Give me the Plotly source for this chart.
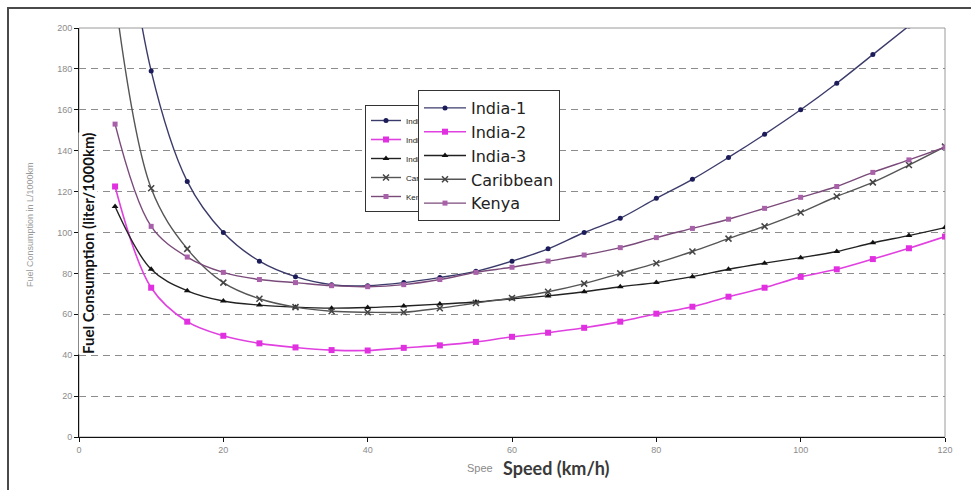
import plotly.graph_objects as go

# Speed (km/h) at which fuel consumption was evaluated
speed = [5, 10, 15, 20, 25, 30, 35, 40, 45, 50, 55, 60,
         65, 70, 75, 80, 85, 90, 95, 100, 105, 110, 115, 120]

# Fuel consumption (liter/1000km) per region
india_1 = [290, 179, 125, 100, 86, 78.4, 74.5, 74, 75.5, 78, 81, 86,
           92, 100, 107, 116.7, 126, 136.7, 148, 160, 173, 187, 201, 215]
india_2 = [122.5, 73, 56.4, 49.5, 45.8, 43.8, 42.5, 42.3, 43.6, 44.8, 46.5, 49,
           51, 53.4, 56.4, 60.3, 63.7, 68.6, 73, 78.3, 82, 87, 92.3, 98]
india_3 = [112.7, 82, 71.5, 66.5, 64.5, 63.5, 63, 63.3, 64, 65, 66, 67.6,
           69, 71, 73.5, 75.5, 78.4, 82, 85, 87.7, 90.7, 95, 98.5, 102.4]
caribbean = [215, 121.6, 92, 75.5, 67.6, 63.5, 61.5, 61, 61, 63, 65.5, 68,
             71, 75, 80, 85, 90.7, 97, 103, 109.8, 117.6, 124.5, 133, 142]
kenya = [153, 103, 88, 80.5, 77, 75.5, 74, 73.5, 74.5, 77, 80.5, 83,
         86, 89, 92.6, 97.5, 102, 106.5, 111.8, 117.2, 122.5, 129.4, 135.5, 141.7]

series_names = ["India-1", "India-2", "India-3", "Caribbean", "Kenya"]
series_values = [india_1, india_2, india_3, caribbean, kenya]

x_ticks = [0, 20, 40, 60, 80, 100, 120]
y_ticks = [0, 20, 40, 60, 80, 100, 120, 140, 160, 180, 200]

styles = [
    dict(line=dict(color="#3b3b6b", width=1.4),
         marker=dict(symbol="circle", size=5, color="#1c1c5a")),
    dict(line=dict(color="#e040e0", width=1.6),
         marker=dict(symbol="square", size=6, color="#e030e0")),
    dict(line=dict(color="#222222", width=1.4),
         marker=dict(symbol="triangle-up", size=6, color="#111111")),
    dict(line=dict(color="#555555", width=1.4),
         marker=dict(symbol="x-thin", size=6, color="#444444",
                     line=dict(color="#444444", width=1.5))),
    dict(line=dict(color="#7a4a7a", width=1.4),
         marker=dict(symbol="square", size=5, color="#a860a8")),
]

fig = go.Figure()

# Smaller legend sitting behind the main one
for name, st in zip(series_names, styles):
    fig.add_trace(go.Scatter(x=[None], y=[None], mode="lines+markers", name=name,
                             legend="legend", legendgroup="b" + name, **st))

# Curves
for name, vals, st in zip(series_names, series_values, styles):
    fig.add_trace(go.Scatter(x=speed, y=vals, mode="lines+markers", name=name,
                             line_shape="spline", legend="legend2",
                             legendgroup=name, **st))

fig.update_layout(
    width=971, height=490,
    margin=dict(l=79, r=26, t=28, b=53),
    paper_bgcolor="white", plot_bgcolor="white",
    showlegend=True,
    legend=dict(x=(365 - 79) / 866, y=(437 - 105) / 409, xanchor="left", yanchor="top",
                bgcolor="white", bordercolor="#333333", borderwidth=1,
                font=dict(family="Liberation Sans", size=8, color="#222222"),
                itemwidth=30, tracegroupgap=0),
    legend2=dict(x=(418 - 79) / 866, y=(437 - 90) / 409, xanchor="left", yanchor="top",
                 bgcolor="white", bordercolor="#333333", borderwidth=1,
                 font=dict(family="DejaVu Sans", size=16, color="#222222"),
                 itemwidth=42, tracegroupgap=0),
    xaxis=dict(range=[0, 120], tickvals=x_ticks, showgrid=False, zeroline=False,
               showline=True, linecolor="#111111", linewidth=1,
               ticks="outside", ticklen=4, tickcolor="#111111",
               tickfont=dict(family="Liberation Sans", size=9, color="#8c8c8c")),
    yaxis=dict(range=[0, 200], tickvals=y_ticks, showgrid=True, gridcolor="#8c8c8c",
               griddash="7px,5px", gridwidth=1, zeroline=False,
               showline=True, linecolor="#111111", linewidth=1,
               ticks="outside", ticklen=4, tickcolor="#111111",
               tickfont=dict(family="Liberation Sans", size=9, color="#8c8c8c")),
    shapes=[
        # plot frame
        dict(type="rect", xref="paper", yref="paper", x0=0, x1=1, y0=0, y1=1,
             line=dict(color="#9a9a9a", width=1), layer="below"),
        # outer frame
        dict(type="rect", xref="paper", yref="paper",
             x0=(8 - 79) / 866, x1=(990 - 79) / 866,
             y0=(437 - 510) / 409, y1=(437 - 8) / 409,
             line=dict(color="#4a4a4a", width=2), layer="below"),
    ],
    annotations=[
        dict(text="Fuel Consumption in L/1000km", xref="paper", yref="paper",
             x=(30 - 79) / 866, y=(437 - 225) / 409, textangle=-90,
             showarrow=False, xanchor="center", yanchor="middle",
             font=dict(family="Liberation Sans", size=9, color="#9a9a9a")),
        dict(text="<b>Fuel Consumption (liter/1000km)</b>", xref="paper", yref="paper",
             x=(88 - 79) / 866, y=(437 - 244) / 409, textangle=-90,
             showarrow=False, xanchor="center", yanchor="middle",
             bgcolor="white", borderpad=0,
             font=dict(family="Lato", size=15, color="#111111")),
        dict(text="Spee", xref="paper", yref="paper",
             x=(465 - 79) / 866, y=(437 - 468) / 409,
             showarrow=False, xanchor="left", yanchor="middle",
             font=dict(family="Liberation Sans", size=11, color="#8a8a8a")),
        dict(text="<b>Speed (km/h)</b>", xref="paper", yref="paper",
             x=(502 - 79) / 866, y=(437 - 468) / 409,
             showarrow=False, xanchor="left", yanchor="middle",
             bgcolor="white", borderpad=0,
             font=dict(family="Lato", size=18, color="#3a3a3a")),
    ],
)

fig.write_html("out.html")
